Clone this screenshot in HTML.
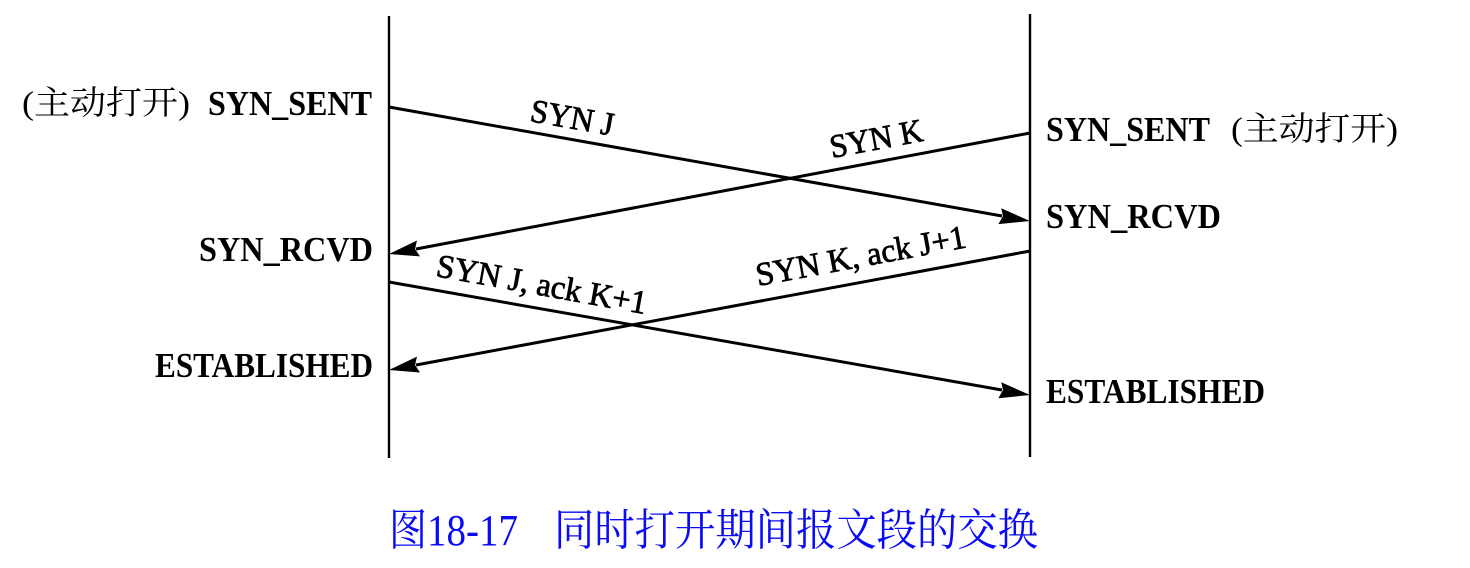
<!DOCTYPE html>
<html>
<head>
<meta charset="utf-8">
<style>
  html, body { margin:0; padding:0; background:#fff; }
  body { width:1470px; height:568px; overflow:hidden; }
  svg { display:block; }
  .st { font-family:"Liberation Serif","Noto Serif CJK SC",serif; font-weight:bold; font-size:35px; fill:#000; }
  .cn { font-family:"Liberation Serif","Noto Serif CJK SC",serif; font-weight:normal; font-size:33px; fill:#000; }
  .lb { font-family:"Liberation Serif","Noto Serif CJK SC",serif; font-weight:normal; font-size:33px; fill:#000; stroke:#000; stroke-width:0.8; }
  .cap { font-family:"Liberation Serif","Noto Serif CJK SC",serif; font-size:44px; fill:#0a0af5; }
</style>
</head>
<body>
<svg width="1470" height="568" viewBox="0 0 1470 568" xmlns="http://www.w3.org/2000/svg">
  <!-- vertical timelines -->
  <line x1="389" y1="16" x2="389" y2="458" stroke="#000" stroke-width="2.4"/>
  <line x1="1030" y1="14" x2="1030" y2="457" stroke="#000" stroke-width="2.4"/>

  <!-- Arrow 1: SYN J -->
  <line x1="389" y1="107" x2="1002" y2="216" stroke="#000" stroke-width="3"/>
  <polygon points="1030,221 998.4,224.1 1003,216 1001.2,208.3" fill="#000"/>

  <!-- Arrow 2: SYN K -->
  <line x1="1030" y1="133" x2="416" y2="249" stroke="#000" stroke-width="3"/>
  <polygon points="389,254 417.0,240.5 415,249 420,256.4" fill="#000"/>

  <!-- Arrow 3: SYN K, ack J+1 -->
  <line x1="1030" y1="251" x2="416" y2="365" stroke="#000" stroke-width="3"/>
  <polygon points="389,370 420,372.5 415,365 417,356.6" fill="#000"/>

  <!-- Arrow 4: SYN J, ack K+1 -->
  <line x1="389" y1="282" x2="1002" y2="390" stroke="#000" stroke-width="3"/>
  <polygon points="1030,395 998.4,398.2 1003,390 1001.2,382.3" fill="#000"/>

  <!-- Left state labels -->
  <text class="cn" x="22" y="114" textLength="168" lengthAdjust="spacingAndGlyphs">(主动打开)</text>
  <text class="st" x="208" y="115" textLength="164" lengthAdjust="spacingAndGlyphs">SYN_SENT</text>
  <text class="st" x="199" y="261" textLength="174" lengthAdjust="spacingAndGlyphs">SYN_RCVD</text>
  <text class="st" x="155" y="377" textLength="218" lengthAdjust="spacingAndGlyphs">ESTABLISHED</text>

  <!-- Right state labels -->
  <text class="st" x="1046" y="141" textLength="164" lengthAdjust="spacingAndGlyphs">SYN_SENT</text>
  <text class="cn" x="1231" y="140" textLength="167" lengthAdjust="spacingAndGlyphs">(主动打开)</text>
  <text class="st" x="1046" y="228" textLength="175" lengthAdjust="spacingAndGlyphs">SYN_RCVD</text>
  <text class="st" x="1046" y="403" textLength="219" lengthAdjust="spacingAndGlyphs">ESTABLISHED</text>

  <!-- Arrow labels -->
  <text class="lb" x="529" y="121" transform="rotate(10.1 529 121)" textLength="84" lengthAdjust="spacingAndGlyphs">SYN J</text>
  <text class="lb" x="832" y="158" transform="rotate(-10.6 832 158)" textLength="94" lengthAdjust="spacingAndGlyphs">SYN K</text>
  <text class="lb" x="435" y="276" transform="rotate(10.3 435 276)" textLength="213" lengthAdjust="spacingAndGlyphs">SYN J, ack K+1</text>
  <text class="lb" x="758" y="286" transform="rotate(-10.5 758 286)" textLength="213" lengthAdjust="spacingAndGlyphs">SYN K, ack J+1</text>

  <!-- Caption -->
  <text class="cap" x="389" y="545" textLength="38" lengthAdjust="spacingAndGlyphs">图</text>
  <text class="cap" x="427" y="545" font-size="46" textLength="91" lengthAdjust="spacingAndGlyphs">18-17</text>
  <text class="cap" x="554" y="545" textLength="484" lengthAdjust="spacingAndGlyphs">同时打开期间报文段的交换</text>
</svg>
</body>
</html>
